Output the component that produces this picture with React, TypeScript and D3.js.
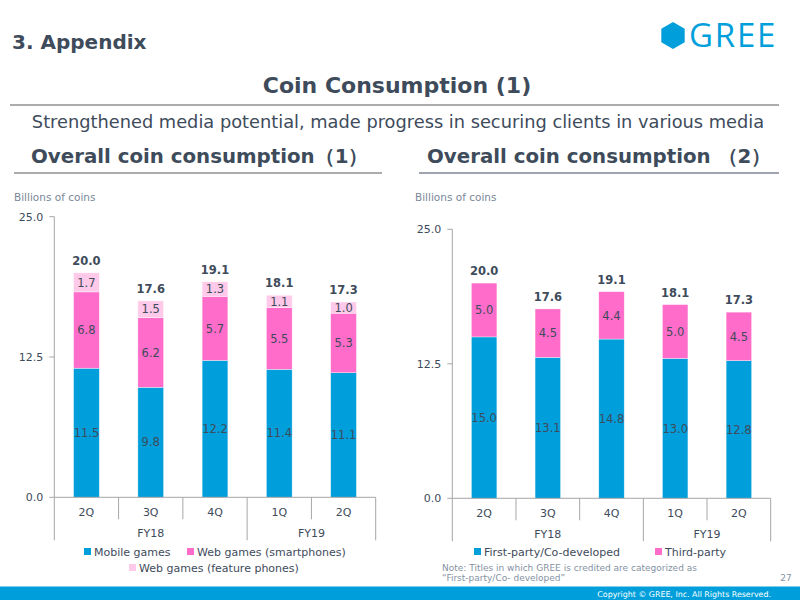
import React from "react";
import * as d3 from "d3";

// Coin consumption, billions of coins, by quarter
const quarters = ["2Q", "3Q", "4Q", "1Q", "2Q"];
const fiscalYears = [
  { label: "FY18", from: 0, to: 3 },
  { label: "FY19", from: 3, to: 5 },
];
const totals = [20.0, 17.6, 19.1, 18.1, 17.3];

// (1) by platform
const mobileGames = [11.5, 9.8, 12.2, 11.4, 11.1];
const webSmartphones = [6.8, 6.2, 5.7, 5.5, 5.3];
const webFeaturePhones = [1.7, 1.5, 1.3, 1.1, 1.0];

// (2) by developer
const firstParty = [15.0, 13.1, 14.8, 13.0, 12.8];
const thirdParty = [5.0, 4.5, 4.4, 5.0, 4.5];

const yTicks = [0, 12.5, 25];

const BLUE = "#009FDB";
const PINK = "#FF6CC9";
const LIGHT_PINK = "#FFC9E9";
const INK = "#3E4B5B";
const FONT = "'DejaVu Sans', Verdana, sans-serif";

interface Series {
  name: string;
  values: number[];
  color: string;
}

interface LegendItem {
  name: string;
  color: string;
  x: number;
  y: number;
}

interface ChartProps {
  left: number;
  right: number;
  top: number;
  bottom: number;
  series: Series[];
  legend: LegendItem[];
  unitX: number;
}

function StackedChart({ left, right, top, bottom, series, legend, unitX }: ChartProps) {
  const y = d3.scaleLinear().domain([0, 25]).range([bottom, top]);
  const x = d3
    .scaleBand<number>()
    .domain(d3.range(quarters.length))
    .range([left, right])
    .paddingInner(0.6)
    .paddingOuter(0.3);
  const step = x.step();
  const cellEdge = (i: number) => left + i * step;

  const stack = d3
    .stack<number>()
    .keys(series.map((_, i) => String(i)))
    .value((idx, key) => series[+key].values[idx]);
  const layers = stack(d3.range(quarters.length));

  const groupEdges = new Set<number>();
  fiscalYears.forEach((g) => {
    groupEdges.add(g.from);
    groupEdges.add(g.to);
  });

  return (
    <g fontFamily={FONT}>
      <text x={unitX} y={201} fontSize={10.5} fill="#7B8797">
        Billions of coins
      </text>

      {/* value axis */}
      <line x1={left} x2={left} y1={top} y2={bottom} stroke="#A6A6A6" />
      {yTicks.map((t) => (
        <g key={t}>
          <line x1={left - 5} x2={left} y1={y(t)} y2={y(t)} stroke="#A6A6A6" />
          <text
            x={left - 11}
            y={y(t)}
            dy="0.35em"
            textAnchor="end"
            fontSize={11}
            fill={INK}
          >
            {t.toFixed(1)}
          </text>
        </g>
      ))}

      {/* stacked bars */}
      {layers.map((layer, li) =>
        layer.map((d, i) => {
          const y0 = y(d[0]);
          const y1 = y(d[1]);
          return (
            <g key={`${li}-${i}`}>
              <rect
                x={x(i)}
                y={y1}
                width={x.bandwidth()}
                height={y0 - y1}
                fill={series[li].color}
                stroke="#ffffff"
                strokeOpacity={0.6}
                strokeWidth={0.6}
              />
              <text
                x={x(i)! + x.bandwidth() / 2}
                y={(y0 + y1) / 2}
                dy="0.36em"
                textAnchor="middle"
                fontSize={11.5}
                fill={INK}
              >
                {series[li].values[i].toFixed(1)}
              </text>
            </g>
          );
        })
      )}

      {/* totals */}
      {totals.map((t, i) => (
        <text
          key={i}
          x={x(i)! + x.bandwidth() / 2}
          y={y(layers[layers.length - 1][i][1]) - 8}
          textAnchor="middle"
          fontSize={11.5}
          fontWeight="bold"
          fill={INK}
        >
          {t.toFixed(1)}
        </text>
      ))}

      {/* category axis with fiscal year grouping */}
      <line x1={left} x2={right} y1={bottom} y2={bottom} stroke="#A6A6A6" />
      {d3.range(quarters.length + 1).map((i) => (
        <line
          key={i}
          x1={cellEdge(i)}
          x2={cellEdge(i)}
          y1={bottom}
          y2={bottom + (groupEdges.has(i) ? 43 : 22)}
          stroke="#A6A6A6"
        />
      ))}
      {quarters.map((q, i) => (
        <text
          key={i}
          x={cellEdge(i) + step / 2}
          y={bottom + 15}
          dy="0.35em"
          textAnchor="middle"
          fontSize={11}
          fill={INK}
        >
          {q}
        </text>
      ))}
      {fiscalYears.map((g) => (
        <text
          key={g.label}
          x={(cellEdge(g.from) + cellEdge(g.to)) / 2}
          y={bottom + 36}
          dy="0.35em"
          textAnchor="middle"
          fontSize={11}
          fill={INK}
        >
          {g.label}
        </text>
      ))}

      {/* legend */}
      {legend.map((l) => (
        <g key={l.name}>
          <rect x={l.x} y={l.y - 4} width={7} height={7} fill={l.color} />
          <text x={l.x + 10} y={l.y} dy="0.35em" fontSize={11} fill={INK}>
            {l.name}
          </text>
        </g>
      ))}
    </g>
  );
}

function GreeLogo() {
  // pointy-top hexagon next to the wordmark
  const cx = 673;
  const cy = 35.5;
  const r = 13.5;
  const pts = d3.range(6).map((k) => {
    const a = (Math.PI / 3) * k - Math.PI / 2;
    return [cx + r * Math.cos(a), cy + r * Math.sin(a)] as [number, number];
  });
  return (
    <g>
      <path d={d3.line()(pts)! + "Z"} fill={BLUE} />
      <text
        x={689}
        y={47}
        fontFamily="'Open Sans', sans-serif"
        fontSize={33}
        fontWeight={500}
        fill={BLUE}
        letterSpacing={1.8}
      >
        GREE
      </text>
    </g>
  );
}

export default function App() {
  const leftSeries: Series[] = [
    { name: "Mobile games", values: mobileGames, color: BLUE },
    { name: "Web games (smartphones)", values: webSmartphones, color: PINK },
    { name: "Web games (feature phones)", values: webFeaturePhones, color: LIGHT_PINK },
  ];
  const rightSeries: Series[] = [
    { name: "First-party/Co-developed", values: firstParty, color: BLUE },
    { name: "Third-party", values: thirdParty, color: PINK },
  ];

  return (
    <div style={{ position: "fixed", left: 0, top: 0 }}>
      <svg width={800} height={600} style={{ display: "block", background: "#fff" }}>
        <g fontFamily={FONT} fill={INK}>
          <text x={12} y={49} fontSize={20} fontWeight="bold">
            3. Appendix
          </text>
          <text x={397} y={93} fontSize={22} fontWeight="bold" textAnchor="middle">
            Coin Consumption (1)
          </text>
          <line x1={10} x2={779} y1={105} y2={105} stroke="#595959" />
          <text x={398} y={128} fontSize={17.8} textAnchor="middle">
            Strengthened media potential, made progress in securing clients in various media
          </text>
          <text x={31} y={163} fontSize={19.8} fontWeight="bold">
            Overall coin consumption（1）
          </text>
          <line x1={14} x2={382} y1={173} y2={173} stroke="#595959" />
          <text x={427} y={163} fontSize={19.8} fontWeight="bold">
            Overall coin consumption （2）
          </text>
          <line x1={419} x2={779} y1={173} y2={173} stroke="#7F8793" strokeWidth={1.3} />
        </g>

        <GreeLogo />

        <StackedChart
          left={54.3}
          right={375.7}
          top={216.7}
          bottom={497.3}
          unitX={14}
          series={leftSeries}
          legend={[
            { name: "Mobile games", color: BLUE, x: 84, y: 552 },
            { name: "Web games (smartphones)", color: PINK, x: 187, y: 552 },
            { name: "Web games (feature phones)", color: LIGHT_PINK, x: 129, y: 568 },
          ]}
        />
        <StackedChart
          left={452.3}
          right={770.7}
          top={229.3}
          bottom={498.3}
          unitX={415}
          series={rightSeries}
          legend={[
            { name: "First-party/Co-developed", color: BLUE, x: 474, y: 552 },
            { name: "Third-party", color: PINK, x: 655, y: 552 },
          ]}
        />

        <g fontFamily={FONT} fontSize={9} fill="#8592A3">
          <text x={442} y={571}>
            Note: Titles in which GREE is credited are categorized as
          </text>
          <text x={442} y={581}>
            “First-party/Co- developed”
          </text>
          <text x={786} y={581} textAnchor="middle" fontSize={9}>
            27
          </text>
        </g>

        <rect x={0} y={586.5} width={800} height={13.5} fill={BLUE} />
        <text
          x={771}
          y={597}
          textAnchor="end"
          fontFamily={FONT}
          fontSize={7.9}
          fill="#ffffff"
        >
          Copyright © GREE, Inc. All Rights Reserved.
        </text>
      </svg>
    </div>
  );
}
